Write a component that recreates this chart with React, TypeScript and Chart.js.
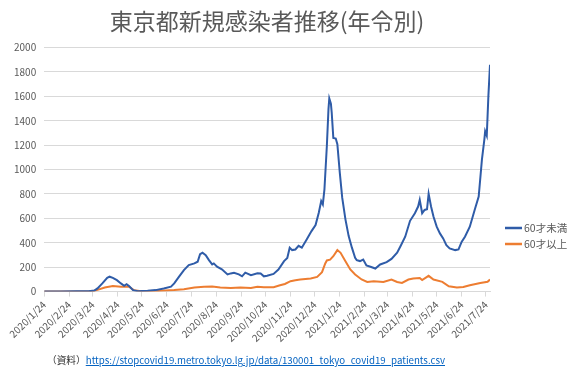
import { useEffect, useRef } from "react";
import { Chart, registerables } from "chart.js";

Chart.register(...registerables);

const FONT = '"Noto Sans CJK JP", "Noto Sans", sans-serif';

const titleText = "東京都新規感染者推移(年令別)";
const seriesNames = ["60才未満", "60才以上"];
const seriesColors = ["#2F5CA8", "#ED7D31"];
const startDate = "2020/1/24";

const tickLabels = [
  "2020/1/24", "2020/2/24", "2020/3/24", "2020/4/24", "2020/5/24", "2020/6/24",
  "2020/7/24", "2020/8/24", "2020/9/24", "2020/10/24", "2020/11/24", "2020/12/24",
  "2021/1/24", "2021/2/24", "2021/3/24", "2021/4/24", "2021/5/24", "2021/6/24",
  "2021/7/24",
];

// day offsets from 2020/1/24 and values
const under60Days = [
  0, 20, 40, 55, 62, 66, 72, 78, 81, 85, 90, 95, 99, 102, 105, 110, 116, 128, 138, 148,
  157, 161, 167, 173, 179, 186, 190, 193, 196, 200, 204, 208, 210, 214, 220, 227, 231, 235, 241, 245,
  249, 256, 264, 268, 272, 276, 284, 290, 297, 301, 304, 307, 311, 315, 319, 325, 331, 336, 340, 343,
  345, 347, 350, 352, 353, 355, 356, 358, 361, 363, 366, 369, 373, 377, 381, 385, 387, 391, 395, 399,
  404, 410, 416, 424, 430, 437, 441, 447, 453, 459, 463, 465, 468, 471, 474, 476, 479, 482, 486, 490,
  494, 498, 502, 509, 513, 517, 521, 527, 533, 538, 542, 545, 546, 548, 550, 552,
];
const under60Values = [
  0, 1, 2, 3, 8, 26, 67, 113, 122, 113, 94, 67, 48, 61, 45, 12, 3, 7, 12, 26,
  40, 67, 122, 176, 217, 231, 245, 307, 318, 299, 258, 223, 231, 204, 182, 141, 149, 154, 141, 125,
  155, 135, 150, 148, 125, 130, 145, 180, 250, 275, 360, 340, 345, 375, 360, 427, 496, 545, 647, 742,
  715, 838, 1195, 1496, 1584, 1540, 1468, 1260, 1255, 1208, 975, 770, 592, 455, 360, 277, 258, 250, 263, 214,
  203, 189, 222, 241, 268, 318, 370, 450, 580, 642, 697, 752, 642, 669, 675, 801, 697, 615, 532, 477,
  436, 381, 354, 340, 346, 409, 450, 532, 669, 779, 1081, 1246, 1314, 1278, 1602, 1860,
];

const over60Days = [
  0, 40, 60, 65, 75, 85, 95, 105, 111, 118, 139, 161, 173, 186, 198, 208, 218, 231, 243, 256,
  264, 272, 284, 292, 298, 305, 311, 317, 330, 338, 344, 348, 350, 354, 358, 363, 367, 373, 379, 385,
  393, 400, 408, 420, 430, 437, 443, 451, 457, 465, 468, 476, 482, 493, 501, 511, 519, 527, 540, 549,
  552,
];
const over60Values = [
  0, 1, 2, 12, 34, 45, 40, 40, 12, 4, 4, 12, 20, 34, 40, 42, 34, 29, 34, 30,
  40, 36, 36, 52, 62, 85, 92, 99, 107, 120, 159, 230, 255, 262, 290, 340, 318, 249, 181, 140,
  99, 79, 85, 79, 99, 79, 71, 99, 107, 112, 95, 129, 99, 80, 44, 33, 38, 52, 71, 80,
  99,
];

const yMax = 2000;
const yStep = 200;

const sourceLabel = "（資料）";
const sourceUrl = "https://stopcovid19.metro.tokyo.lg.jp/data/130001_tokyo_covid19_patients.csv";

function toUTC(label: string) {
  const [y, m, d] = label.split("/").map(Number);
  return Date.UTC(y, m - 1, d);
}
function dayOffset(label: string) {
  return Math.round((toUTC(label) - toUTC(startDate)) / 86400000);
}

const legendPlugin = {
  id: "sideLegend",
  afterDraw(chart: any) {
    const ctx = chart.ctx;
    const x0 = chart.chartArea.right + 15;
    const ys = [228, 244];
    ctx.save();
    chart.data.datasets.forEach((ds: any, i: number) => {
      ctx.strokeStyle = ds.borderColor;
      ctx.lineWidth = 2.5;
      ctx.beginPath();
      ctx.moveTo(x0, ys[i]);
      ctx.lineTo(x0 + 17, ys[i]);
      ctx.stroke();
      ctx.fillStyle = "#595959";
      ctx.font = `10.5px ${FONT}`;
      ctx.textBaseline = "middle";
      ctx.textAlign = "left";
      ctx.fillText(ds.label, x0 + 19, ys[i]);
    });
    ctx.restore();
  },
};

export default function App() {
  const ref = useRef<HTMLCanvasElement | null>(null);

  useEffect(() => {
    if (!ref.current) return;
    const labelByDay: Record<number, string> = {};
    tickLabels.forEach((l) => (labelByDay[dayOffset(l)] = l));
    const lastDay = Math.max(under60Days[under60Days.length - 1], over60Days[over60Days.length - 1]);

    const chart = new Chart(ref.current, {
      type: "line",
      data: {
        datasets: [
          {
            label: seriesNames[0],
            data: under60Days.map((d, i) => ({ x: d, y: under60Values[i] })),
            borderColor: seriesColors[0],
            backgroundColor: seriesColors[0],
            borderWidth: 2,
            pointRadius: 0,
            tension: 0,
          },
          {
            label: seriesNames[1],
            data: over60Days.map((d, i) => ({ x: d, y: over60Values[i] })),
            borderColor: seriesColors[1],
            backgroundColor: seriesColors[1],
            borderWidth: 2,
            pointRadius: 0,
            tension: 0,
          },
        ],
      },
      options: {
        responsive: false,
        animation: false,
        devicePixelRatio: 1,
        layout: { padding: { left: 6, right: 85, top: 0, bottom: 30 } },
        plugins: {
          legend: { display: false },
          tooltip: { enabled: false },
          title: {
            display: true,
            text: titleText,
            fullSize: false,
            color: "#595959",
            font: { family: FONT, size: 23, weight: "normal" },
            padding: { top: 7, bottom: 13 },
          },
        },
        scales: {
          x: {
            type: "linear",
            min: 0,
            max: lastDay,
            afterBuildTicks: (axis: any) => {
              axis.ticks = tickLabels.map((l) => ({ value: dayOffset(l) }));
            },
            ticks: {
              autoSkip: false,
              maxRotation: 45,
              minRotation: 45,
              color: "#595959",
              font: { family: FONT, size: 10 },
              padding: 2,
              callback: (v: any) => labelByDay[v as number] ?? "",
            },
            grid: {
              display: true,
              drawOnChartArea: false,
              drawTicks: true,
              tickLength: 5,
              color: "#d9d9d9",
            },
            border: { display: true, color: "#d9d9d9" },
          },
          y: {
            min: 0,
            max: yMax,
            ticks: {
              stepSize: yStep,
              color: "#595959",
              font: { family: FONT, size: 10 },
              padding: 8,
              callback: (v: any) => String(v),
            },
            grid: { color: "#d9d9d9", drawTicks: false },
            border: { display: false },
          },
        },
      },
      plugins: [legendPlugin],
    });
    return () => chart.destroy();
  }, []);

  return (
    <div
      style={{
        position: "fixed",
        left: 0,
        top: 0,
        width: 575,
        height: 376,
        background: "#ffffff",
        overflow: "hidden",
      }}
    >
      <canvas ref={ref} width={575} height={376} style={{ display: "block" }} />
      <div
        style={{
          position: "absolute",
          left: 47,
          top: 353,
          fontFamily: FONT,
          fontSize: 9.7,
          lineHeight: "14px",
          color: "#333333",
          whiteSpace: "nowrap",
        }}
      >
        <span>{sourceLabel}</span>
        <a href={sourceUrl} style={{ color: "#0563C1", textDecoration: "underline" }}>
          {sourceUrl}
        </a>
      </div>
    </div>
  );
}
